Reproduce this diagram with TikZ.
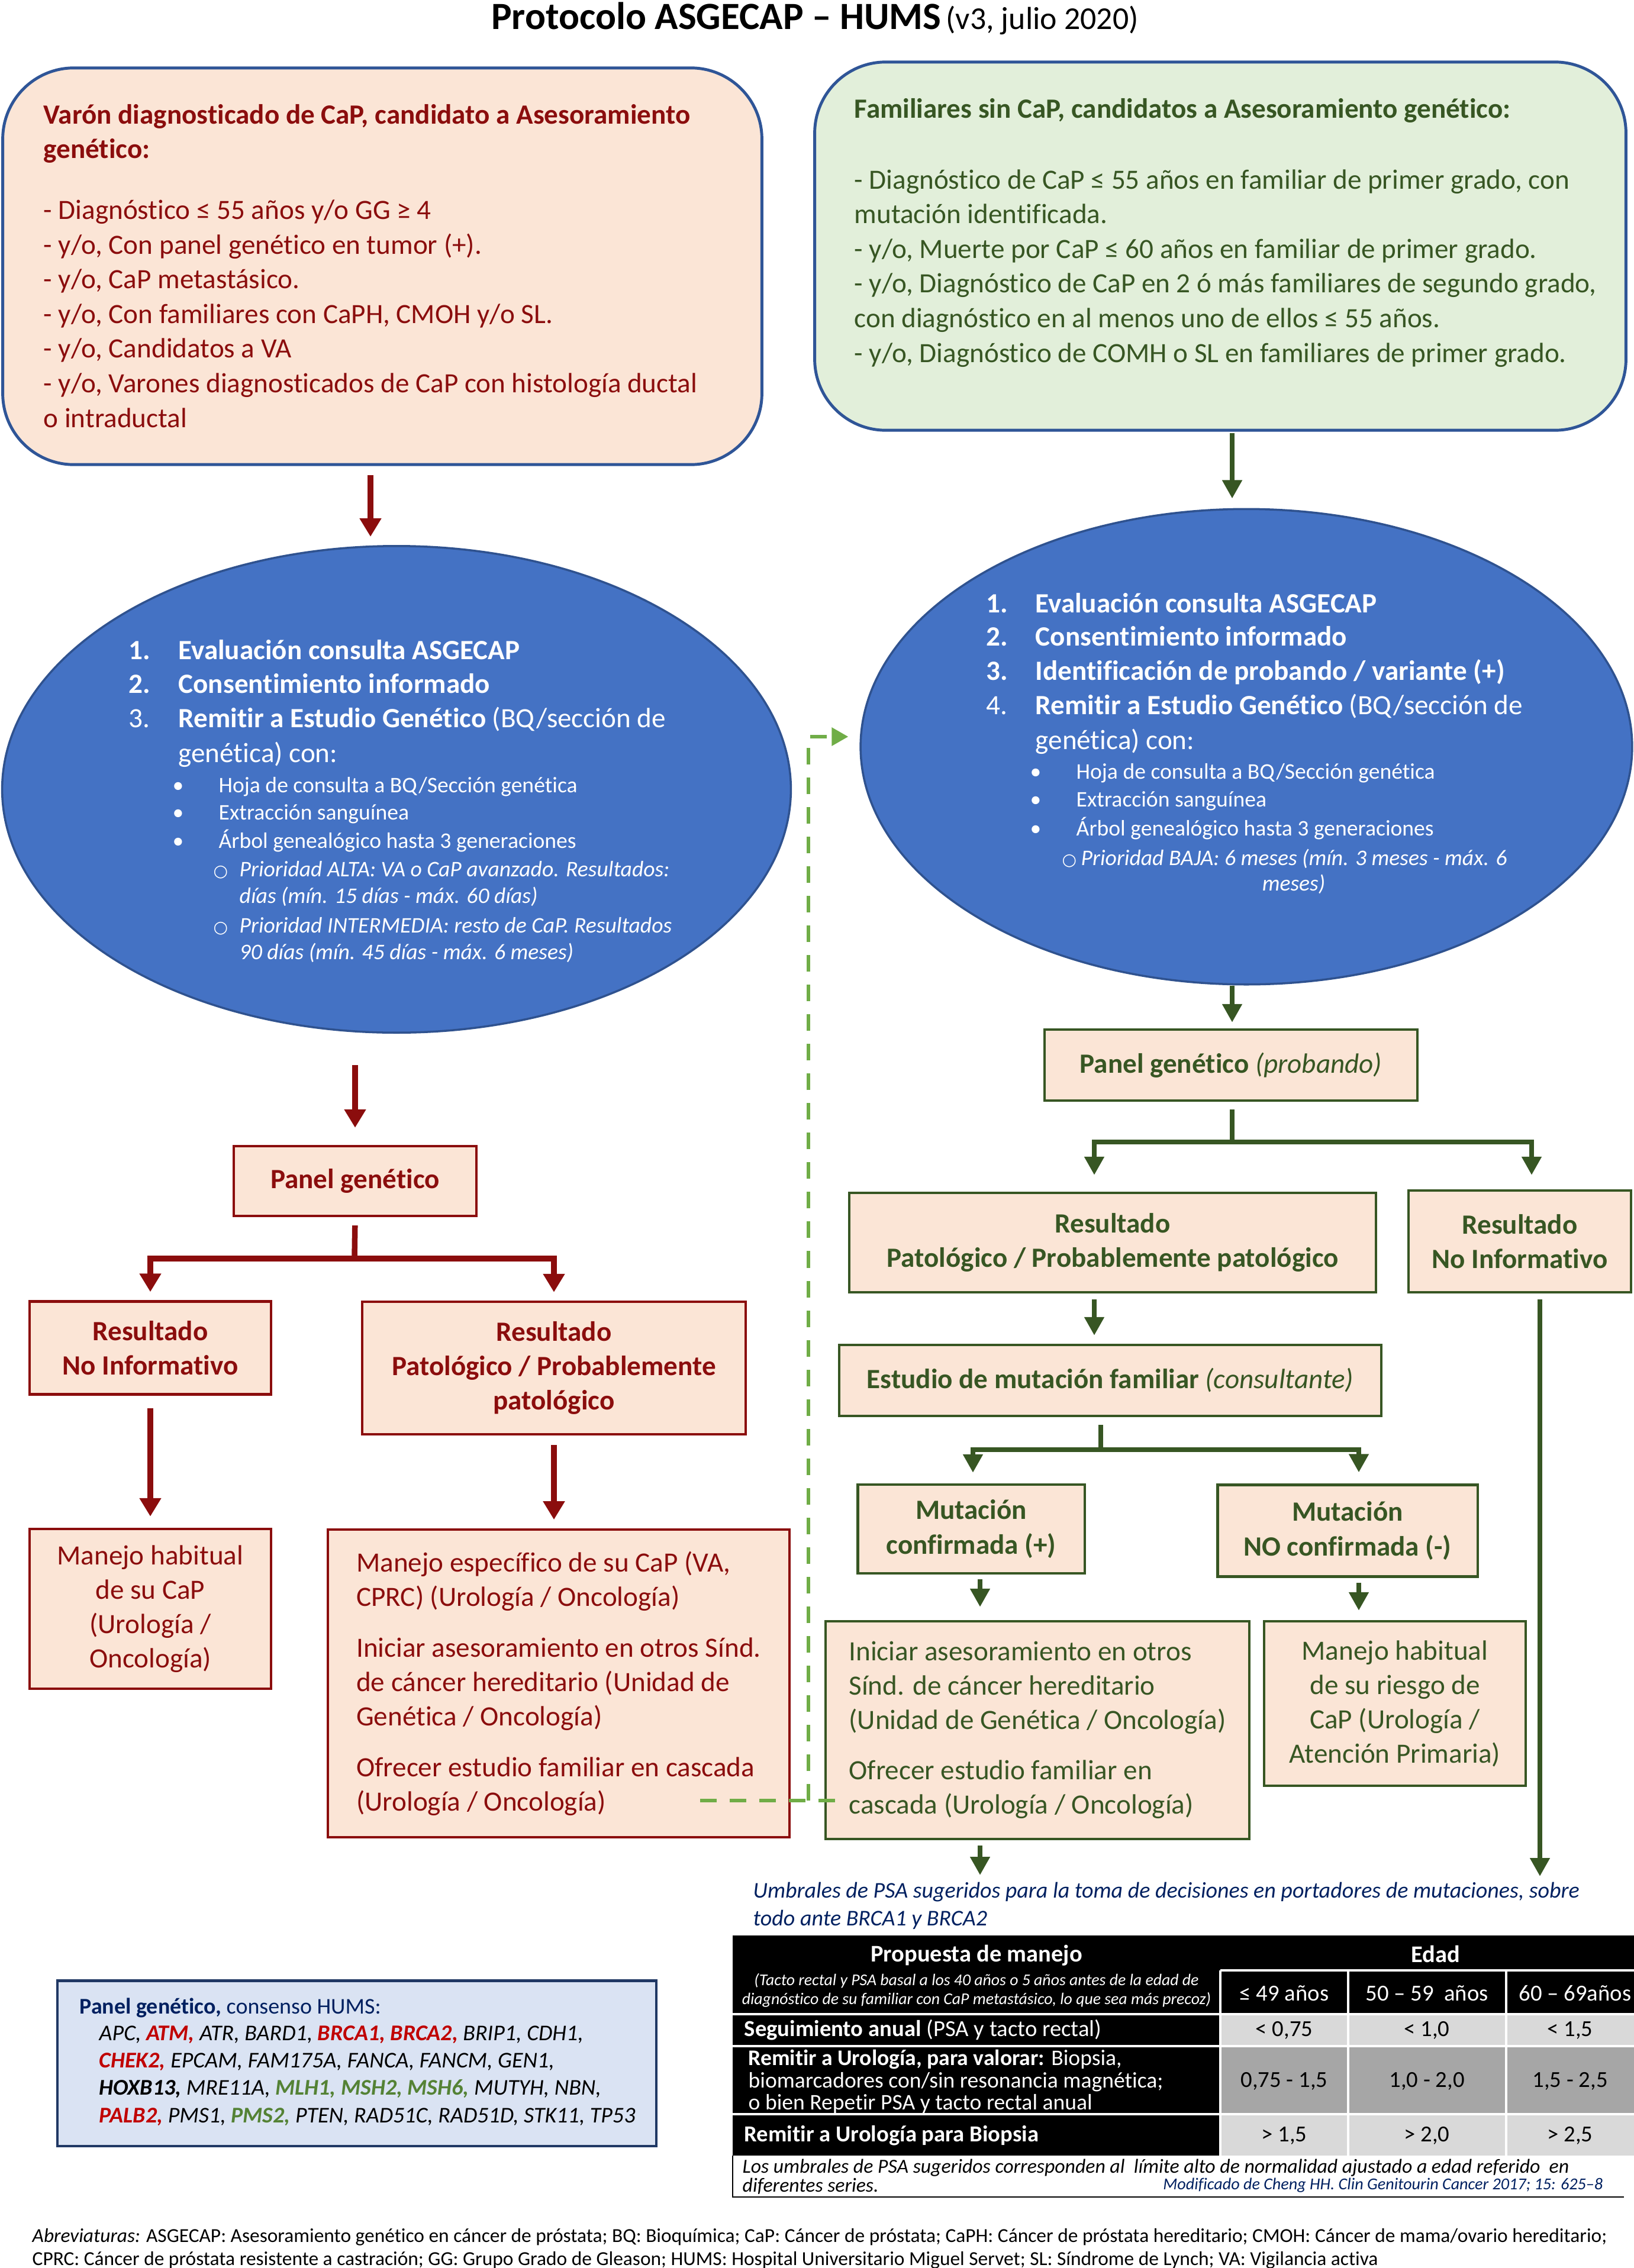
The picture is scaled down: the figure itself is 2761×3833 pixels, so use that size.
\documentclass[tikz,border=0pt]{standalone}
\usepackage{fontspec}
\setmainfont{Carlito}[Ligatures=NoCommon]
\newfontfamily\symf{DejaVu Sans}
\usetikzlibrary{arrows.meta,shapes.geometric}

\definecolor{redd}{HTML}{8B0D0D}
\definecolor{greend}{HTML}{375623}
\definecolor{peach}{HTML}{FBE5D6}
\definecolor{mint}{HTML}{E2EFDA}
\definecolor{ellblue}{HTML}{4472C4}
\definecolor{ellline}{HTML}{2F528F}
\definecolor{boxline}{HTML}{2F5597}
\definecolor{dashgreen}{HTML}{70AD47}
\definecolor{navy}{HTML}{002060}
\definecolor{panelfill}{HTML}{DAE3F3}
\definecolor{panelline}{HTML}{203864}
\definecolor{genered}{HTML}{C00000}
\definecolor{genegreen}{HTML}{548235}
\definecolor{cellA}{HTML}{D9D9D9}
\definecolor{cellB}{HTML}{A6A6A6}

\newcommand{\fsz}[2]{\fontsize{#1pt}{#2pt}\selectfont}
\newcommand{\subb}{{\symf\fsz{8}{10}○}}

\tikzset{
  topbox/.style={draw=boxline, line width=1.4pt, rounded corners=1.2cm, inner sep=0pt},
  bigell/.style={ellipse, draw=ellline, fill=ellblue, line width=1pt, inner sep=0pt},
  flowbox/.style={line width=1.2pt, inner sep=0pt, fill=peach, align=center, font=\bfseries\fsz{13.4}{16.5}},
  redbox/.style={flowbox, draw=redd, text=redd},
  grnbox/.style={flowbox, draw=greend, text=greend},
  redln/.style={draw=redd, line width=2.7pt},
  redarr/.style={redln, -{Triangle[length=0.31cm,width=0.35cm]}},
  grnln/.style={draw=greend, line width=2.5pt},
  grnarr/.style={grnln, -{Triangle[length=0.31cm,width=0.32cm]}},
  dashln/.style={draw=dashgreen, line width=1.7pt, dash pattern=on 0.28cm off 0.22cm},
  txt/.style={anchor=base west, inner sep=0pt, align=left},
  elmain/.style={txt, text=white, font=\fsz{13.4}{16.5}},
  elbold/.style={txt, text=white, font=\bfseries\fsz{13.4}{16.5}},
  elsmall/.style={txt, text=white, font=\fsz{10.7}{13}},
  elital/.style={txt, text=white, font=\itshape\fsz{10.7}{13}},
  cell/.style={inner sep=0pt, font=\fsz{11}{13}},
}

\begin{document}
\begin{tikzpicture}[x=0.01cm, y=-0.01cm]
\useasboundingbox (0,0) rectangle (2761,3833);

% title
\node[anchor=base, inner sep=0pt] (title) at (1377,50)
  {{\bfseries\fsz{18.5}{22}Protocolo ASGECAP – HUMS} {\fsz{15.3}{18}(v3, julio 2020)}};

% entry boxes (multi-line texts sit on the baseline of their last line)
\node[topbox, fill=peach, minimum width=12.82cm, minimum height=6.70cm] (casoL) at (646,450) {};
\node[txt, text=redd, font=\fsz{13.4}{16.64}] (casoLtxt) at (73,722)
  {\textbf{Varón diagnosticado de CaP, candidato a Asesoramiento}\\
   \textbf{genético:}\\[0.445cm]
   - Diagnóstico ≤ 55 años y/o GG ≥ 4\\
   - y/o, Con panel genético en tumor (+).\\
   - y/o, CaP metastásico.\\
   - y/o, Con familiares con CaPH, CMOH y/o SL.\\
   - y/o, Candidatos a VA\\
   - y/o, Varones diagnosticados de CaP con histología ductal\\
   o intraductal};

\node[topbox, fill=mint, minimum width=13.70cm, minimum height=6.22cm] (casoR) at (2062,416) {};
\node[txt, text=greend, font=\fsz{13.4}{16.64}] (casoRtxt) at (1443,612)
  {\textbf{Familiares sin CaP, candidatos a Asesoramiento genético:}\\[0.615cm]
   - Diagnóstico de CaP ≤ 55 años en familiar de primer grado, con\\
   mutación identificada.\\
   - y/o, Muerte por CaP ≤ 60 años en familiar de primer grado.\\
   - y/o, Diagnóstico de CaP en 2 ó más familiares de segundo grado,\\
   con diagnóstico en al menos uno de ellos ≤ 55 años.\\
   - y/o, Diagnóstico de COMH o SL en familiares de primer grado.};

% consultation ellipses
\node[bigell, minimum width=13.32cm, minimum height=8.22cm] (evalL) at (670,1334) {};
\node[bigell, minimum width=13.03cm, minimum height=8.03cm] (evalR) at (2106,1262) {};

% left ellipse contents
\foreach \y/\t [count=\i] in {1114/{Evaluación consulta ASGECAP}, 1171/{Consentimiento informado}}{
  \node[elbold] (numL\i) at (217,\y) {\i.};
  \node[elbold] (itemL\i) at (301,\y) {\t};
}
\node[elmain] (numL3) at (217,1229) {3.};
\node[elmain] (itemL3) at (301,1229) {\textbf{Remitir a Estudio Genético} (BQ/sección de};
\node[elmain] (itemL3b) at (301,1288) {genética) con:};
\foreach \y/\t [count=\i] in {1339/{Hoja de consulta a BQ/Sección genética}, 1385/{Extracción sanguínea}, 1433/{Árbol genealógico hasta 3 generaciones}}{
  \node[elsmall] (dotL\i) at (291,\y) {•};
  \node[elsmall] (bulL\i) at (369,\y) {\t};
}
\foreach \y/\t [count=\i] in {1481/{Prioridad ALTA: VA o CaP avanzado. Resultados:}, 1526/{días (mín. 15 días - máx. 60 días)}, 1576/{Prioridad INTERMEDIA: resto de CaP. Resultados}, 1621/{90 días (mín. 45 días - máx. 6 meses)}}
  \node[elital] (subL\i) at (404,\y) {\t};
\node[elsmall] (cirL1) at (360,1481) {\subb};
\node[elsmall] (cirL2) at (360,1576) {\subb};

% right ellipse contents
\foreach \y/\t [count=\i] in {1035/{Evaluación consulta ASGECAP}, 1091/{Consentimiento informado}, 1149/{Identificación de probando / variante (+)}}{
  \node[elbold] (numR\i) at (1666,\y) {\i.};
  \node[elbold] (itemR\i) at (1749,\y) {\t};
}
\node[elmain] (numR4) at (1666,1207) {4.};
\node[elmain] (itemR4) at (1749,1207) {\textbf{Remitir a Estudio Genético} (BQ/sección de};
\node[elmain] (itemR4b) at (1749,1266) {genética) con:};
\foreach \y/\t [count=\i] in {1316/{Hoja de consulta a BQ/Sección genética}, 1363/{Extracción sanguínea}, 1412/{Árbol genealógico hasta 3 generaciones}}{
  \node[elsmall] (dotR\i) at (1740,\y) {•};
  \node[elsmall] (bulR\i) at (1818,\y) {\t};
}
\node[elsmall] (cirR1) at (1794,1462) {\subb};
\node[elital] (subR1) at (1826,1462) {Prioridad BAJA: 6 meses (mín. 3 meses - máx. 6};
\node[elital, anchor=base] (subR1b) at (2186,1505) {meses)};

% left flow
\node[redbox, minimum width=4.09cm, minimum height=1.18cm] (panelL) at (600,1996) {Panel genético};
\node[redbox, minimum width=4.08cm, minimum height=1.57cm] (noinfL) at (254,2278) {Resultado\\No Informativo};
\node[redbox, minimum width=6.47cm, minimum height=2.24cm] (patL) at (936,2312) {Resultado\\Patológico / Probablemente\\patológico};
\node[redbox, font=\fsz{13.4}{16.5}, minimum width=4.08cm, minimum height=2.70cm] (habL) at (254,2719)
  {Manejo habitual\\de su CaP\\(Urología /\\Oncología)};
\node[redbox, font=\fsz{13.4}{16.5}, align=left, minimum width=7.79cm, minimum height=5.19cm] (espL) at (944,2845)
  {Manejo específico de su CaP (VA,\\CPRC) (Urología / Oncología)\\[0.28cm]
   Iniciar asesoramiento en otros Sínd.\\de cáncer hereditario (Unidad de\\Genética / Oncología)\\[0.28cm]
   Ofrecer estudio familiar en cascada\\(Urología / Oncología)};

% right flow
\node[grnbox, minimum width=6.29cm, minimum height=1.20cm] (panelR) at (2080,1800) {Panel genético {\mdseries\itshape (probando)}};
\node[grnbox, minimum width=8.90cm, minimum height=1.68cm] (patR) at (1880,2100) {Resultado\\Patológico / Probablemente patológico};
\node[grnbox, minimum width=3.76cm, minimum height=1.72cm] (noinfR) at (2568,2098) {Resultado\\No Informativo};
\node[grnbox, minimum width=9.15cm, minimum height=1.20cm] (famR) at (1876,2333) {Estudio de mutación familiar {\mdseries\itshape (consultante)}};
\node[grnbox, minimum width=3.83cm, minimum height=1.50cm] (posR) at (1641,2584) {Mutación\\confirmada (+)};
\node[grnbox, minimum width=4.39cm, minimum height=1.55cm] (negR) at (2277,2587) {Mutación\\NO confirmada (-)};
\node[grnbox, font=\fsz{13.4}{16.5}, align=left, minimum width=7.16cm, minimum height=3.68cm] (iniR) at (1753,2924)
  {Iniciar asesoramiento en otros\\Sínd. de cáncer hereditario\\(Unidad de Genética / Oncología)\\[0.27cm]
   Ofrecer estudio familiar en\\cascada (Urología / Oncología)};
\node[grnbox, font=\fsz{13.4}{16.5}, minimum width=4.42cm, minimum height=2.78cm] (habR) at (2357,2879)
  {Manejo habitual\\de su riesgo de\\CaP (Urología /\\Atención Primaria)};

% columns of the connectors
\coordinate (colA) at (626,0);
\coordinate (colH) at (1849,0);
\coordinate (colI) at (2588,0);
\coordinate (colK) at (1644,0);
\coordinate (colL) at (2296,0);
\coordinate (colM) at (1656,0);
\coordinate (colN) at (2602,0);
\coordinate (colR) at (2082,0);
\coordinate (forkL) at (599,2127);
\coordinate (forkR) at (2082,1930);
\coordinate (forkR2) at (1860,2450);
\coordinate (outR1) at (1656,3169);
\coordinate (outR2) at (2602,3171);

% left connectors
\draw[redarr, shorten <=0.15cm, shorten >=0.14cm] (casoL.south -| colA) -- (evalL.north -| colA);
\draw[redarr, shorten <=0.53cm, shorten >=0.29cm] (evalL.south -| panelL.north) -- (panelL.north);
\draw[redln, shorten <=0.14cm] (panelL.south) -- (forkL);
\draw[redarr, shorten >=0.14cm] (forkL) -| (noinfL.north);
\draw[redarr, shorten >=0.14cm] (forkL) -| (patL.north);
\draw[redarr, shorten <=0.21cm, shorten >=0.19cm] (noinfL.south) -- (habL.north);
\draw[redarr, shorten <=0.16cm, shorten >=0.15cm] (patL.south) -- (patL.south |- espL.north);

% right connectors
\draw[grnarr, shorten <=0.02cm, shorten >=0.16cm] (casoR.south -| colR) -- (evalR.north -| colR);
\draw[grnarr, shorten >=0.10cm] (evalR.south -| colR) -- (panelR.north -| colR);
\draw[grnln, shorten <=0.13cm] (panelR.south -| forkR) -- (forkR);
\draw[grnarr, shorten >=0.28cm] (forkR) -| (patR.north -| colH);
\draw[grnarr, shorten >=0.24cm] (forkR) -| (noinfR.north -| colI);
\draw[grnarr, shorten <=0.10cm, shorten >=0.14cm] (patR.south -| colH) -- (famR.north -| colH);
\draw[grnln, shorten <=0.13cm] (famR.south -| forkR2) -- (forkR2);
\draw[grnarr, shorten >=0.18cm] (forkR2) -| (posR.north -| colK);
\draw[grnarr, shorten >=0.19cm] (forkR2) -| (negR.north -| colL);
\draw[grnarr, shorten <=0.08cm, shorten >=0.22cm] (posR.south -| colM) -- (iniR.north -| colM);
\draw[grnarr, shorten <=0.08cm, shorten >=0.16cm] (negR.south -| colL) -- (habR.north -| colL);
\draw[grnarr, shorten <=0.09cm] (iniR.south -| colM) -- (outR1);
\draw[grnarr, shorten <=0.10cm] (noinfR.south -| colN) -- (outR2);

% cascade link back to the relatives' consultation
\coordinate (dashS) at (1183,3043);
\coordinate (dashE) at (1412,3043);
\coordinate (dashV) at (1366,1245);
\draw[dashln] (dashS) -- (dashE);
\draw[dashln, -{Triangle[length=0.28cm,width=0.30cm]}, shorten >=0.19cm] (dashS -| dashV) -- (dashV) -- (evalR.west |- dashV);

% PSA thresholds
\node[txt, text=navy, font=\itshape\fsz{10.8}{13.1}] (umbral) at (1272,3254)
  {Umbrales de PSA sugeridos para la toma de decisiones en portadores de mutaciones, sobre\\todo ante BRCA1 y BRCA2};

\fill[black] (1238,3271) rectangle (2761,3404);
\fill[black] (1238,3404) rectangle (2062,3643);
\fill[cellA] (2062,3404) rectangle (2761,3458);
\fill[cellB] (2062,3458) rectangle (2761,3573);
\fill[cellA] (2062,3573) rectangle (2761,3643);
\draw[white, line width=1pt] (2062,3330) -- (2761,3330)
  (1238,3404) -- (2761,3404) (1238,3458) -- (2761,3458) (1238,3573) -- (2761,3573)
  (2062,3330) -- (2062,3643) (2278,3330) -- (2278,3643) (2545,3330) -- (2545,3643);
\draw[black, line width=0.8pt] (1238,3643) -- (1238,3713) -- (2744,3713);

\node[cell, text=white, font=\bfseries\fsz{11.5}{14}] (propHd) at (1650,3305) {Propuesta de manejo};
\node[cell, text=white, font=\itshape\fsz{7.9}{9.1}, align=center] (propSub) at (1650,3364)
  {(Tacto rectal y PSA basal a los 40 años o 5 años antes de la edad de\\diagnóstico de su familiar con CaP metastásico, lo que sea más precoz)};
\node[cell, text=white, font=\bfseries\fsz{11.5}{14}] (edadHd) at (2426,3302) {Edad};
\node[cell, text=white] (age1) at (2170,3369) {≤ 49 años};
\node[cell, text=white] (age2) at (2411,3369) {50 – 59\ \ años};
\node[cell, text=white, anchor=west] (age3) at (2566,3369) {60 – 69años};

\node[cell, text=white, anchor=west] (row1) at (1257,3431) {\textbf{Seguimiento anual} (PSA y tacto rectal)};
\node[cell, text=white, anchor=west, align=left, font=\fsz{10.7}{10.6}] (row2) at (1264,3518)
  {\textbf{Remitir a Urología, para valorar:} Biopsia,\\biomarcadores con/sin resonancia magnética;\\o bien Repetir PSA y tacto rectal anual};
\node[cell, text=white, anchor=west] (row3) at (1257,3609) {\textbf{Remitir a Urología para Biopsia}};
\foreach \x/\a/\b/\c [count=\i] in {2170/{< 0,75}/{0,75 - 1,5}/{> 1,5}, 2411/{< 1,0}/{1,0 - 2,0}/{> 2,0}, 2653/{< 1,5}/{1,5 - 2,5}/{> 2,5}}{
  \node[cell] (seg\i) at (\x,3431) {\a};
  \node[cell] (val\i) at (\x,3517) {\b};
  \node[cell] (bio\i) at (\x,3609) {\c};
}
\node[txt, font=\itshape\fsz{9.6}{8.9}] (nota) at (1254,3704)
  {Los umbrales de PSA sugeridos corresponden al\ \ límite alto de normalidad ajustado a edad referido\ \ en\\diferentes series.};
\node[anchor=base east, inner sep=0pt, text=navy, font=\itshape\fsz{8}{9}] (fuente) at (2709,3700)
  {Modificado de Cheng HH. Clin Genitourin Cancer 2017; 15: 625–8};

% gene panel
\node[draw=panelline, line width=1.2pt, fill=panelfill, minimum width=10.11cm, minimum height=2.79cm, inner sep=0pt] (genes) at (603,3487) {};
\node[txt, text=navy, font=\fsz{10.8}{13}] (genesHd) at (134,3403) {\textbf{Panel genético,} consenso HUMS:};
\node[txt, font=\itshape\fsz{10.8}{13.1}] (genesLst) at (167,3587)
  {APC, \textcolor{genered}{\textbf{ATM,}} ATR, BARD1, \textcolor{genered}{\textbf{BRCA1, BRCA2,}} BRIP1, CDH1,\\
   \textcolor{genered}{\textbf{CHEK2,}} EPCAM, FAM175A, FANCA, FANCM, GEN1,\\
   \textbf{HOXB13,} MRE11A, \textcolor{genegreen}{\textbf{MLH1, MSH2, MSH6,}} MUTYH, NBN,\\
   \textcolor{genered}{\textbf{PALB2,}} PMS1, \textcolor{genegreen}{\textbf{PMS2,}} PTEN, RAD51C, RAD51D, STK11, TP53};

% abbreviations
\node[txt, font=\fsz{9.5}{11.1}] (abrev) at (54,3828)
  {\textit{Abreviaturas:} ASGECAP: Asesoramiento genético en cáncer de próstata; BQ: Bioquímica; CaP: Cáncer de próstata; CaPH: Cáncer de próstata hereditario; CMOH: Cáncer de mama/ovario hereditario;\\
   CPRC: Cáncer de próstata resistente a castración; GG: Grupo Grado de Gleason; HUMS: Hospital Universitario Miguel Servet; SL: Síndrome de Lynch; VA: Vigilancia activa};
\end{tikzpicture}
\end{document}
